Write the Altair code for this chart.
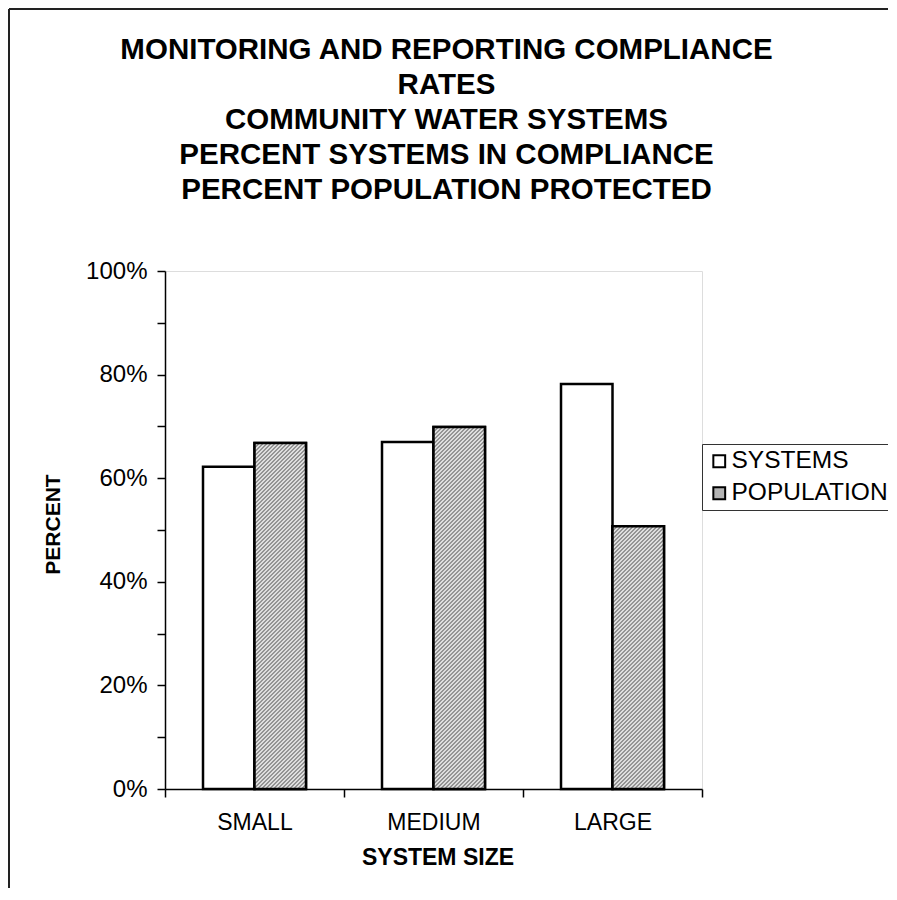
import math
import altair as alt
import pandas as pd

# ---- data ----
categories = ["SMALL", "MEDIUM", "LARGE"]
series_names = ["SYSTEMS", "POPULATION"]
systems_pct = [0.622, 0.670, 0.782]
population_pct = [0.668, 0.699, 0.507]
y_tick_values = [0.0, 0.1, 0.2, 0.3, 0.4, 0.5, 0.6, 0.7, 0.8, 0.9, 1.0]
title_lines = [
    "MONITORING AND REPORTING COMPLIANCE",
    "RATES",
    "COMMUNITY WATER SYSTEMS",
    "PERCENT SYSTEMS IN COMPLIANCE",
    "PERCENT POPULATION PROTECTED",
]

rows = []
for c, s, p in zip(categories, systems_pct, population_pct):
    rows.append({"size": c, "series": "SYSTEMS", "value": s})
    rows.append({"size": c, "series": "POPULATION", "value": p})
df = pd.DataFrame(rows)

# ---- layout ----
F = "Liberation Sans"
W, H = 537, 518
PAD = {"left": 157, "top": 263, "right": 186, "bottom": 99}
OUTER = 0.738
BAR_W = W / len(categories) / (2 + 2 * OUTER)

DARK, LIGHT = "#949494", "#dedede"
PERIOD = 4 / math.sqrt(2)  # px, perpendicular to the stripes (4 px horizontally)


def hatch(value):
    """Diagonal '/' stripes as a linear gradient in bar-bbox units."""
    h = value * H
    w = BAR_W
    r = h / w
    a = (1 + r) / (1 + r * r)
    L = (w + h) / math.sqrt(2)
    step = PERIOD / L
    stops = []
    k = 0
    while k * step < 1:
        o0 = k * step
        om = min(1, (k + 0.5) * step)
        o1 = min(1, (k + 1) * step)
        stops += [
            alt.GradientStop(offset=o0, color=DARK),
            alt.GradientStop(offset=om, color=DARK),
            alt.GradientStop(offset=om, color=LIGHT),
            alt.GradientStop(offset=o1, color=LIGHT),
        ]
        k += 1
    return alt.LinearGradient(gradient="linear", stops=stops,
                              x1=0, y1=0, x2=a, y2=a * r)


x_axis = alt.Axis(
    title="SYSTEM SIZE", labelAngle=0, tickBand="extent",
    tickSize=8, tickColor="black", tickWidth=1.5,
    domainColor="black", domainWidth=1.5,
    labelFont=F, labelFontSize=23, labelColor="black",
    labelBaseline="alphabetic", labelPadding=32,
    titleFont=F, titleFontSize=23, titleFontWeight="bold", titleColor="black",
    titleBaseline="alphabetic", titleY=75, titleX=W / 2 + 4,
)
y_axis = alt.Axis(
    title="PERCENT", values=y_tick_values,
    labelExpr="round(datum.value*10) % 2 == 0 ? format(datum.value, '.0%') : ''",
    grid=False, tickSize=8, tickColor="black", tickWidth=1.5,
    domainColor="black", domainWidth=1.5,
    labelFont=F, labelFontSize=24, labelColor="black", labelPadding=10,
    titleFont=F, titleFontSize=21, titleFontWeight="bold", titleColor="black",
    titleBaseline="alphabetic", titleX=-106, titleY=H / 2 - 6, titleAngle=-90,
)

x_enc = alt.X("size:N", scale=alt.Scale(domain=categories, paddingInner=0, paddingOuter=0),
              axis=x_axis)
xo_enc = alt.XOffset("series:N", scale=alt.Scale(domain=series_names, paddingInner=0,
                                                 paddingOuter=OUTER))
y_enc = alt.Y("value:Q", scale=alt.Scale(domain=[0, 1], nice=False), axis=y_axis)

base = alt.Chart(df)

bars = base.mark_bar(stroke="black", strokeWidth=2.5, strokeJoin="miter").encode(
    x=x_enc, xOffset=xo_enc, y=y_enc,
    color=alt.Color("series:N",
                    scale=alt.Scale(domain=series_names, range=["white", "#b4b4b4"]),
                    legend=alt.Legend(
                        title=None, orient="none", legendX=537, legendY=173,
                        direction="vertical", strokeColor="#333", fillColor="white",
                        padding=5, symbolType="square", symbolSize=140,
                        symbolStrokeColor="black", symbolStrokeWidth=2,
                        labelFont=F, labelFontSize=24.5, labelColor="black",
                        labelOffset=0, labelLimit=400, rowPadding=7,
                    )),
)

layers = [bars]
for c, p in zip(categories, population_pct):
    layers.append(
        base.transform_filter(
            (alt.datum.series == "POPULATION") & (alt.datum.size == c)
        ).mark_bar(fill=hatch(p), stroke="black", strokeWidth=2.5, strokeJoin="miter").encode(
            x=x_enc, xOffset=xo_enc, y=y_enc
        )
    )

one = alt.Data(values=[{}])
title_text = alt.Chart(one).mark_text(
    font=F, fontSize=29.5, fontWeight="bold", color="black",
    align="center", baseline="top", lineHeight=35,
).encode(x=alt.value(W / 2 + 13), y=alt.value(-235), text=alt.value(title_lines))

frame_left = alt.Chart(one).mark_rule(color="#222", strokeWidth=2).encode(
    x=alt.value(-156), y=alt.value(-262), y2=alt.value(H + PAD["bottom"]))
frame_top = alt.Chart(one).mark_rule(color="#222", strokeWidth=2).encode(
    x=alt.value(-156), x2=alt.value(W + PAD["right"]), y=alt.value(-262))
layers += [title_text, frame_left, frame_top]

chart = alt.layer(*layers).properties(
    width=W, height=H,
    autosize=alt.AutoSizeParams(type="none"),
    padding=PAD,
).configure_view(stroke="#7a7a7a", strokeWidth=2).configure(background="white")

chart.save("out.html", embed_options={"renderer": "svg", "actions": False})
